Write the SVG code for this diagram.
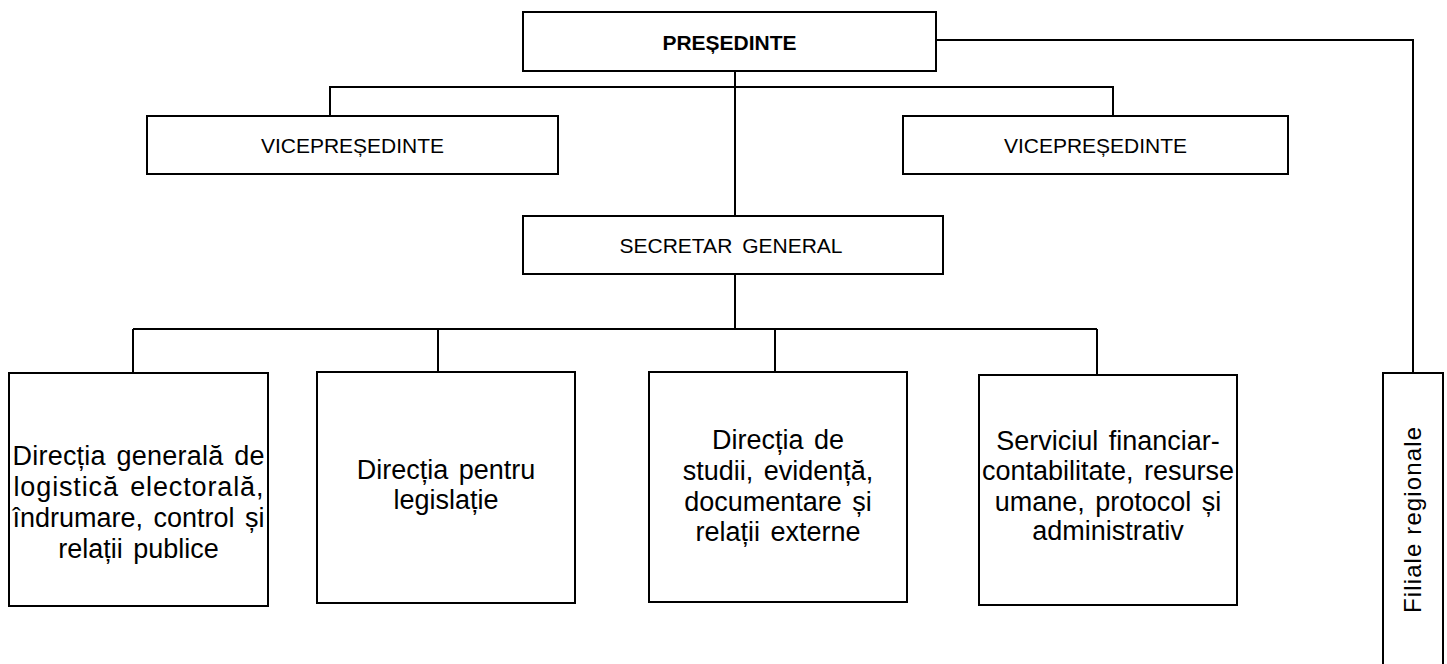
<svg xmlns="http://www.w3.org/2000/svg" width="1447" height="664" viewBox="0 0 1447 664">
<style>
.box{fill:#fff;stroke:#000;stroke-width:2}
.ln{fill:none;stroke:#000;stroke-width:2}
.t{font-family:"Liberation Sans",Arial,sans-serif;fill:#000;text-anchor:middle}
.h{font-size:21px}
.b{font-size:27px;word-spacing:3px}
</style>
<rect width="1447" height="664" fill="#fff"/>
<g id="connectors">
<polyline class="ln" points="936,40 1413,40 1413,373"/>
<line class="ln" x1="735" y1="71" x2="735" y2="216"/>
<polyline class="ln" points="330,116 330,87 1113,87 1113,116"/>
<line class="ln" x1="735" y1="274" x2="735" y2="329"/>
<line class="ln" x1="133" y1="329" x2="1097" y2="329"/>
<line class="ln" x1="133" y1="329" x2="133" y2="373"/>
<line class="ln" x1="438" y1="329" x2="438" y2="372"/>
<line class="ln" x1="775" y1="329" x2="775" y2="372"/>
<line class="ln" x1="1097" y1="329" x2="1097" y2="375"/>
</g>
<g id="presedinte">
<rect class="box" x="523" y="12" width="413" height="59"/>
<text class="t h" x="729.5" y="50" font-weight="bold">PREȘEDINTE</text>
</g>
<g id="vicepresedinte1">
<rect class="box" x="147" y="116" width="411" height="58"/>
<text class="t h" x="352.5" y="153">VICEPREȘEDINTE</text>
</g>
<g id="vicepresedinte2">
<rect class="box" x="903" y="116" width="385" height="58"/>
<text class="t h" x="1095.5" y="153">VICEPREȘEDINTE</text>
</g>
<g id="secretar">
<rect class="box" x="523" y="216" width="420" height="58"/>
<text class="t h" x="731" y="253" word-spacing="4">SECRETAR GENERAL</text>
</g>
<g id="directia-generala">
<rect class="box" x="9" y="373" width="259" height="233"/>
<text class="t b" x="138.5" y="465" textLength="252" lengthAdjust="spacing">Direcția generală de</text>
<text class="t b" x="138.5" y="496" textLength="250" lengthAdjust="spacing">logistică electorală,</text>
<text class="t b" x="138.5" y="527" textLength="252" lengthAdjust="spacing">îndrumare, control și</text>
<text class="t b" x="138.5" y="558">relații publice</text>
</g>
<g id="directia-legislatie">
<rect class="box" x="317" y="372" width="258" height="231"/>
<text class="t b" x="446" y="479">Direcția pentru</text>
<text class="t b" x="446" y="509">legislație</text>
</g>
<g id="directia-studii">
<rect class="box" x="649" y="372" width="258" height="230"/>
<text class="t b" x="778" y="449">Direcția de</text>
<text class="t b" x="778" y="480">studii, evidență,</text>
<text class="t b" x="778" y="511">documentare și</text>
<text class="t b" x="778" y="541">relații externe</text>
</g>
<g id="serviciul">
<rect class="box" x="979" y="375" width="258" height="230"/>
<text class="t b" x="1108" y="450">Serviciul financiar-</text>
<text class="t b" x="1108" y="480" textLength="252" lengthAdjust="spacing">contabilitate, resurse</text>
<text class="t b" x="1108" y="511">umane, protocol și</text>
<text class="t b" x="1108" y="540">administrativ</text>
</g>
<g id="filiale">
<rect class="box" x="1383" y="373" width="60" height="300"/>
<text class="t" font-size="24" transform="translate(1421,520) rotate(-90)" textLength="186" lengthAdjust="spacing">Filiale regionale</text>
</g>
</svg>
